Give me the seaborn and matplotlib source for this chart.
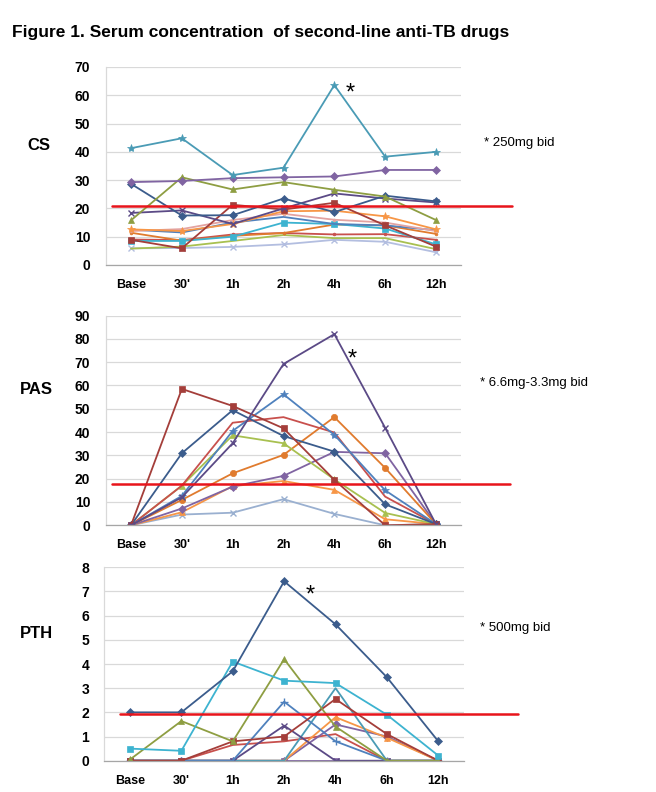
import matplotlib
matplotlib.use("Agg")
import matplotlib.pyplot as plt
import matplotlib.transforms as mtransforms
import seaborn as sns
import numpy as np

sns.set_style("white")
plt.rcParams['font.family'] = ['Liberation Sans', 'DejaVu Sans']
plt.rcParams['text.color'] = 'black'
plt.rcParams['xtick.labelcolor'] = 'black'
plt.rcParams['ytick.labelcolor'] = 'black'

times = ["Base", "30'", "1h", "2h", "4h", "6h", "12h"]

# ---------------- CS (serum concentration) ----------------
cs_teal_star = [41.3, 44.8, 31.8, 34.4, 63.6, 38.3, 40.0]
cs_purple_diamond = [29.3, 29.7, 30.7, 31.0, 31.3, 33.6, 33.6]
cs_olive_triangle = [15.8, 31.0, 26.7, 29.3, 26.6, 24.2, 15.9]
cs_darkblue_diamond = [28.7, 17.5, 17.6, 23.5, 18.7, 24.5, 22.5]
cs_darkpurple_x = [18.4, 19.3, 14.5, 20.0, 25.3, 23.5, 22.1]
cs_darkred_square = [8.9, 5.9, 21.3, 19.6, 22.0, 14.0, 6.5]
cs_orange_star = [12.6, 12.0, 14.5, 19.0, 19.2, 17.2, 12.6]
cs_orange_line = [11.4, 8.6, 10.3, 11.3, 14.3, 14.0, 11.0]
cs_cyan_square = [8.5, 8.5, 10.0, 15.0, 14.5, 12.9, 7.3]
cs_red_line = [9.0, 8.8, 10.8, 11.3, 10.8, 10.9, 8.9]
cs_lime_line = [5.8, 6.5, 8.5, 10.6, 9.5, 9.5, 5.6]
cs_lavender_x = [5.9, 6.0, 6.4, 7.3, 8.9, 8.2, 4.5]
cs_pink_line = [12.0, 12.7, 15.9, 18.1, 16.0, 15.0, 12.0]
cs_blue_line = [12.5, 11.5, 15.0, 17.0, 14.5, 14.0, 12.3]

# ---------------- PAS ----------------
pas_darkpurple_x = [0, 12.0, 35.2, 69.2, 82.0, 41.8, 0.5]
pas_darkred_square = [0, 58.5, 51.2, 41.6, 19.5, 0, 0.5]
pas_blue_diamond = [0, 30.9, 49.4, 38.3, 31.6, 9.0, 0.5]
pas_blue_star = [0, 12.6, 40.5, 56.2, 38.8, 15.0, 0.5]
pas_red_line = [0, 17.0, 44.0, 46.4, 39.8, 12.3, 0.5]
pas_green_triangle = [0, 17.0, 38.6, 35.2, 19.7, 5.3, 0.5]
pas_orange_circle = [0, 10.9, 22.3, 30.2, 46.4, 24.6, 0.5]
pas_purple_diamond = [0, 7.2, 16.6, 21.2, 31.5, 30.9, 0.5]
pas_orange_triangle = [0, 5.6, 16.8, 19.0, 15.2, 2.6, 0.5]
pas_lightblue_x = [0, 4.6, 5.4, 11.2, 4.9, 0, 0.5]

# ---------------- PTH ----------------
pth_darkblue_diamond = [2.0, 2.0, 3.7, 7.42, 5.64, 3.45, 0.8]
pth_cyan_square = [0.5, 0.41, 4.1, 3.31, 3.21, 1.9, 0.21]
pth_olive_triangle = [0.05, 1.64, 0.8, 4.2, 1.41, 0, 0]
pth_darkred_square = [0, 0, 0.8, 1.0, 2.55, 1.1, 0]
pth_blue_plus = [0, 0, 0, 2.44, 0.8, 0, 0]
pth_darkpurple_x = [0, 0, 0, 1.45, 0, 0, 0]
pth_teal_line = [0, 0, 0, 0, 3.0, 0, 0]
pth_orange_tri = [0, 0, 0, 0, 1.8, 0.95, 0]
pth_purple_diamond = [0, 0, 0, 0, 1.5, 1.0, 0]
pth_red_line = [0, 0, 0.65, 0.8, 1.1, 0, 0]
pth_pink_square = [0, 0, 0, 0, 0, 0, 0]

cs_thresh = 21
pas_thresh = 17.8
pth_thresh = 1.95

C = dict(teal="#4A9BB5", purple="#8064A2", olive="#8E9E42", darkblue="#3B5C8C",
         darkpurple="#5B4A86", darkred="#A43E3A", orange="#F79646", cyan="#3DB3D0",
         red="#C8504D", lime="#A8C050", lavender="#B3BEE0", pink="#E3A3A1",
         blue="#4F81BD", darkorange="#E07B2E", lightblue="#9AB0D0")

cs_series = [
    (cs_lavender_x, C['lavender'], 'x'),
    (cs_lime_line, C['lime'], None),
    (cs_red_line, C['red'], '.'),
    (cs_orange_line, C['darkorange'], '.'),
    (cs_cyan_square, C['cyan'], 's'),
    (cs_blue_line, C['blue'], None),
    (cs_pink_line, C['pink'], '.'),
    (cs_orange_star, C['orange'], '*'),
    (cs_darkred_square, C['darkred'], 's'),
    (cs_darkpurple_x, C['darkpurple'], 'x'),
    (cs_darkblue_diamond, C['darkblue'], 'D'),
    (cs_olive_triangle, C['olive'], '^'),
    (cs_purple_diamond, C['purple'], 'D'),
    (cs_teal_star, C['teal'], '*'),
]
pas_series = [
    (pas_lightblue_x, C['lightblue'], 'x'),
    (pas_orange_triangle, C['orange'], '^'),
    (pas_purple_diamond, C['purple'], 'D'),
    (pas_orange_circle, C['darkorange'], 'o'),
    (pas_green_triangle, C['lime'], '^'),
    (pas_red_line, C['red'], None),
    (pas_blue_star, C['blue'], '*'),
    (pas_blue_diamond, C['darkblue'], 'D'),
    (pas_darkred_square, C['darkred'], 's'),
    (pas_darkpurple_x, C['darkpurple'], 'x'),
]
pth_series = [
    (pth_pink_square, C['purple'], 's'),
    (pth_red_line, C['red'], None),
    (pth_purple_diamond, C['purple'], 'D'),
    (pth_orange_tri, C['orange'], '^'),
    (pth_teal_line, C['teal'], None),
    (pth_darkpurple_x, C['darkpurple'], 'x'),
    (pth_blue_plus, C['blue'], '+'),
    (pth_darkred_square, C['darkred'], 's'),
    (pth_olive_triangle, C['olive'], '^'),
    (pth_cyan_square, C['cyan'], 's'),
    (pth_darkblue_diamond, C['darkblue'], 'D'),
]

W, H = 656, 792
fig = plt.figure(figsize=(W / 100, H / 100), dpi=100)


def px_axes(x0, x1, ytop, ybot):
    return fig.add_axes([x0 / W, 1 - ybot / H, (x1 - x0) / W, (ybot - ytop) / H])


panels = [
    dict(series=cs_series, box=(105.6, 461.4, 67, 265), ymax=70, step=10,
         thresh=cs_thresh, red=(112, 512), label="CS", lab_y=145, lab_x=39,
         note="* 250mg bid", note_xy=(484, 143), star=(4.32, 60.5)),
    dict(series=pas_series, box=(105.6, 461.4, 315.5, 525.3), ymax=90, step=10,
         thresh=pas_thresh, red=(112, 510), label="PAS", lab_y=390, lab_x=36,
         note="* 6.6mg-3.3mg bid", note_xy=(480, 383), star=(4.35, 71)),
    dict(series=pth_series, box=(104.3, 464.0, 567.3, 760.7), ymax=8, step=1,
         thresh=pth_thresh, red=(120, 518), label="PTH", lab_y=633, lab_x=36,
         note="* 500mg bid", note_xy=(480, 628), star=(3.5, 6.85)),
]

xs = np.arange(len(times))
msize = {'D': 3.8, 's': 4.2, '^': 4.5, 'o': 4.5, '*': 6, 'x': 5, '+': 6, '.': 4}

for p in panels:
    x0, x1, yt, yb = p['box']
    ax = px_axes(x0, x1, yt, yb)
    for vals, col, mk in p['series']:
        kw = dict(marker=mk if mk else '', markersize=msize.get(mk, 0),
                  markeredgewidth=1.0 if mk in ('x', '+') else 0.5,
                  markeredgecolor=col)
        sns.lineplot(x=xs, y=vals, color=col, linewidth=1.3, ax=ax, legend=False, **kw)
    ax.set_xlim(-0.5, len(times) - 0.5)
    ax.set_ylim(0, p['ymax'])
    ax.set_yticks(np.arange(0, p['ymax'] + p['step'] / 2, p['step']))
    ax.set_yticklabels([str(int(v)) for v in ax.get_yticks()], fontsize=10,
                       fontweight='bold', color='black')
    ax.set_xticks(xs)
    ax.set_xticklabels(times, fontsize=9, fontweight='bold', color='black')
    ax.set_xticks(np.arange(-0.5, len(times)), minor=True)
    ax.tick_params(axis='x', which='major', length=0, pad=10)
    ax.tick_params(axis='x', which='minor', length=5, color='#A6A6A6', width=0.8, direction='out')
    ax.tick_params(axis='y', length=0, pad=11)
    ax.grid(axis='y', color='#D9D9D9', linewidth=0.9)
    ax.set_axisbelow(True)
    for s in ('top', 'right'):
        ax.spines[s].set_visible(False)
    ax.spines['left'].set_color('#D9D9D9')
    ax.spines['bottom'].set_color('#A6A6A6')
    ax.spines['left'].set_linewidth(0.9)
    ax.spines['bottom'].set_linewidth(0.9)
    ax.set_xlabel('')
    ax.set_ylabel('')
    # threshold red line, extending beyond the plot area
    trans = mtransforms.blended_transform_factory(ax.transAxes, ax.transData)
    fx0 = (p['red'][0] - x0) / (x1 - x0)
    fx1 = (p['red'][1] - x0) / (x1 - x0)
    ax.plot([fx0, fx1], [p['thresh'], p['thresh']], color='#E8141B', linewidth=1.8,
            transform=trans, clip_on=False, zorder=5)
    ax.text(p['star'][0], p['star'][1], '*', fontsize=17, ha='center', va='center',
            color='black')
    fig.text(p['lab_x'] / W, 1 - p['lab_y'] / H, p['label'], fontsize=12, fontweight='bold',
             ha='center', va='center', color='black')
    fig.text(p['note_xy'][0] / W, 1 - p['note_xy'][1] / H, p['note'], fontsize=9.5,
             ha='left', va='center', color='black')

fig.text(12 / W, 1 - 32 / H, "Figure 1. Serum concentration  of second-line anti-TB drugs",
         fontsize=12.5, fontweight='bold', ha='left', va='center', color='black')

fig.savefig("out.png", dpi=100, facecolor='white')
